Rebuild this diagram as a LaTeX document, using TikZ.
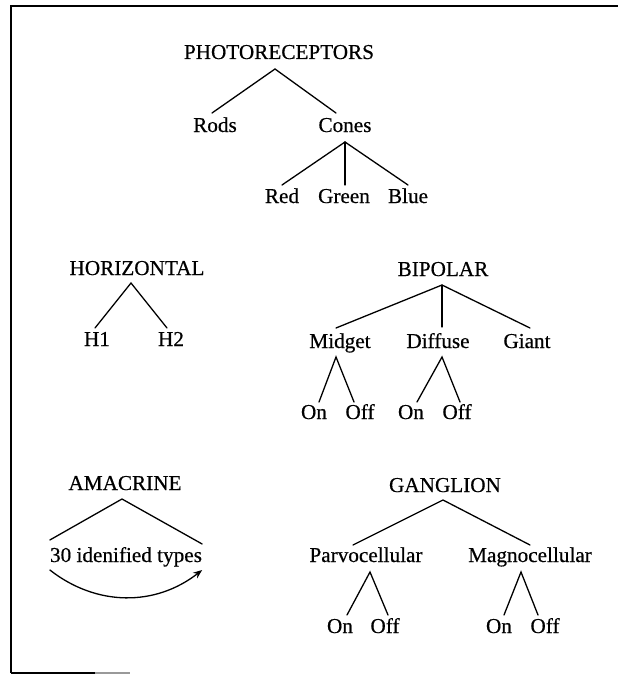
\documentclass[tikz,border=0pt]{standalone}
\usepackage{fontspec}
\setmainfont{Liberation Serif}[FakeBold=0.5]
\usetikzlibrary{arrows.meta}
\begin{document}
\begin{tikzpicture}[x=1pt,y=-1pt,
  lbl/.style={anchor=base, inner sep=0pt, font=\fontsize{21.2}{24}\selectfont},
  link/.style={line width=1.3pt, line cap=round},
  framestyle/.style={line width=1.6pt}]
\useasboundingbox (0,0) rectangle (618,674);
% frame
\draw[framestyle] (11,673) -- (11,6) -- (618,6);
\draw[line width=1.3pt] (11,673) -- (95,673);
\draw[line width=1.3pt, black!40] (95,673) -- (130,673);
% photoreceptors
\node[lbl] (photo) at (279,59) {PHOTORECEPTORS};
\node[lbl] (rods) at (215,132) {Rods};
\node[lbl] (cones) at (345,132) {Cones};
\node[lbl] (red) at (282,203) {Red};
\node[lbl] (green) at (344,203) {Green};
\node[lbl] (blue) at (408,203) {Blue};
\draw[link] ([xshift=-3pt,yshift=19pt]rods.base) -- ([xshift=-4pt,yshift=-10pt]photo.base) -- ([xshift=-9pt,yshift=19pt]cones.base);
\draw[link] ([yshift=18pt]red.base) -- ([yshift=-10pt]cones.base) -- ([yshift=18pt]blue.base);
\draw[link] ([yshift=-10pt]cones.base) -- ([xshift=1pt,yshift=18pt]green.base);
% horizontal
\node[lbl] (horiz) at (137,275) {HORIZONTAL};
\node[lbl] (h1) at (97,346) {H1};
\node[lbl] (h2) at (171,346) {H2};
\draw[link] ([xshift=-2pt,yshift=18pt]h1.base) -- ([xshift=-6pt,yshift=-8pt]horiz.base) -- ([xshift=-4pt,yshift=18pt]h2.base);
% bipolar
\node[lbl] (bipolar) at (443,276) {BIPOLAR};
\node[lbl] (midget) at (340,348) {Midget};
\node[lbl] (diffuse) at (438,348) {Diffuse};
\node[lbl] (giant) at (527,348) {Giant};
\draw[link] ([xshift=-4pt,yshift=20pt]midget.base) -- ([xshift=-1pt,yshift=-9pt]bipolar.base) -- ([xshift=3pt,yshift=20pt]giant.base);
\draw[link] ([xshift=-1pt,yshift=-9pt]bipolar.base) -- ([xshift=4pt,yshift=21pt]diffuse.base);
\node[lbl] (mon) at (314,419) {On};
\node[lbl] (moff) at (360,419) {Off};
\node[lbl] (don) at (411,419) {On};
\node[lbl] (doff) at (457,419) {Off};
\draw[link] ([xshift=5pt,yshift=17pt]mon.base) -- ([xshift=-4pt,yshift=-9pt]midget.base) -- ([xshift=-6pt,yshift=17pt]moff.base);
\draw[link] ([xshift=6pt,yshift=17pt]don.base) -- ([xshift=4pt,yshift=-9pt]diffuse.base) -- ([xshift=3pt,yshift=17pt]doff.base);
% amacrine
\node[lbl] (amacrine) at (125,490) {AMACRINE};
\node[lbl] (types) at (126,562) {30 idenified types};
\draw[link] ([yshift=22pt]types.base west) -- ([xshift=-3pt,yshift=-9pt]amacrine.base) -- ([yshift=18pt]types.base east);
\draw[link, -{Stealth[length=9pt,width=7pt]}] ([yshift=-8pt]types.base west) to[bend right=38] ([yshift=-8pt]types.base east);
% ganglion
\node[lbl] (ganglion) at (445,492) {GANGLION};
\node[lbl] (parvo) at (366,562) {Parvocellular};
\node[lbl] (magno) at (530,562) {Magnocellular};
\draw[link] ([xshift=-13pt,yshift=17pt]parvo.base) -- ([xshift=-2pt,yshift=-8pt]ganglion.base) -- ([yshift=17pt]magno.base);
\node[lbl] (pon) at (340,633) {On};
\node[lbl] (poff) at (385,633) {Off};
\node[lbl] (gon) at (499,633) {On};
\node[lbl] (goff) at (545,633) {Off};
\draw[link] ([xshift=7pt,yshift=18pt]pon.base) -- ([xshift=4pt,yshift=-10pt]parvo.base) -- ([xshift=3pt,yshift=18pt]poff.base);
\draw[link] ([xshift=5pt,yshift=18pt]gon.base) -- ([xshift=-9pt,yshift=-10pt]magno.base) -- ([xshift=-7pt,yshift=18pt]goff.base);
\end{tikzpicture}
\end{document}
